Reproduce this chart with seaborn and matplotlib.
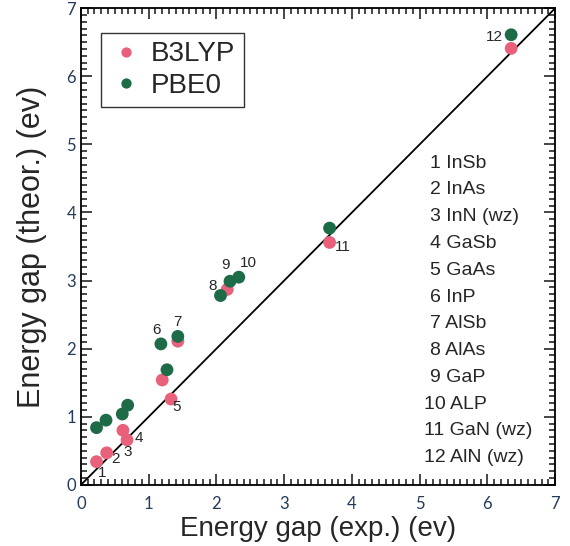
import numpy as np
import pandas as pd
import matplotlib
matplotlib.use("Agg")
import matplotlib.pyplot as plt
import seaborn as sns
from matplotlib.ticker import MultipleLocator

# -------------------------------
# Data
# -------------------------------
b3lyp_exp = [0.23, 0.38, 0.68, 0.62, 1.33, 1.20, 1.43, 2.16, 3.67, 6.35]
b3lyp_theo = [0.34, 0.47, 0.66, 0.80, 1.26, 1.54, 2.11, 2.87, 3.56, 6.41]

pbe0_exp = [0.23, 0.37, 0.61, 0.69, 1.27, 1.18, 1.43, 2.06, 2.20, 2.33, 3.67, 6.35]
pbe0_theo = [0.84, 0.95, 1.04, 1.17, 1.69, 2.07, 2.18, 2.78, 2.99, 3.05, 3.77, 6.61]

compounds = ["InSb", "InAs", "InN (wz)", "GaSb", "GaAs", "InP", "AlSb",
             "AlAs", "GaP", "ALP", "GaN (wz)", "AlN (wz)"]

# which point each number label sits next to: (series, index, dx px, dy px)
label_anchor = [
    ("B3LYP", 0, 6, -11), ("B3LYP", 1, 9, -6), ("B3LYP", 2, 1, -12),
    ("B3LYP", 3, 16, -8), ("B3LYP", 4, 6, -8), ("PBE0", 5, -4, 14),
    ("PBE0", 6, 0, 14), ("PBE0", 7, -8, 10), ("PBE0", 8, -4, 16),
    ("PBE0", 9, 10, 14), ("B3LYP", 8, 13, -5), ("PBE0", 11, -17, -2),
]

df = pd.concat([
    pd.DataFrame({"exp": b3lyp_exp, "theo": b3lyp_theo, "method": "B3LYP"}),
    pd.DataFrame({"exp": pbe0_exp, "theo": pbe0_theo, "method": "PBE0"}),
], ignore_index=True)

# -------------------------------
# Plot
# -------------------------------
sns.set_style("white")
plt.rcParams["font.family"] = ["Liberation Sans", "DejaVu Sans"]

fig = plt.figure(figsize=(5.7, 5.46), dpi=100)
ax = fig.add_axes([0.142, 0.112, 0.832, 0.873])

ax.plot([0, 7], [0, 7], color="black", lw=1.3, zorder=1)

sns.scatterplot(data=df, x="exp", y="theo", hue="method",
                palette={"B3LYP": "#E8607A", "PBE0": "#1E6B47"},
                s=85, edgecolor="none", ax=ax, zorder=3)

series = {"B3LYP": (b3lyp_exp, b3lyp_theo), "PBE0": (pbe0_exp, pbe0_theo)}
for i, (name, idx, dx, dy) in enumerate(label_anchor):
    xs, ys = series[name]
    ax.annotate(str(i + 1), (xs[idx], ys[idx]), xytext=(dx, dy),
                textcoords="offset pixels", ha="center", va="center",
                fontsize=11)

for i, c in enumerate(compounds):
    x0 = 0.724 if i >= 9 else 0.735
    ax.text(x0, 0.675 - i * 0.0562, f"{i + 1} {c}", transform=ax.transAxes,
            fontsize=14, va="center", ha="left")

ax.set_xlim(0, 7)
ax.set_ylim(0, 7)
ax.xaxis.set_major_locator(MultipleLocator(1))
ax.yaxis.set_major_locator(MultipleLocator(1))
ax.xaxis.set_minor_locator(MultipleLocator(0.1))
ax.yaxis.set_minor_locator(MultipleLocator(0.1))
ax.tick_params(which="both", direction="in", top=True, right=True,
               bottom=True, left=True, width=1.2)
ax.tick_params(which="major", length=8, labelsize=12, labelcolor="#243B5A")
ax.tick_params(which="minor", length=4)
ax.tick_params(axis="x", which="major", pad=8)
for lab in ax.get_xticklabels() + ax.get_yticklabels():
    lab.set_family(["Lato", "DejaVu Sans"])
for sp in ax.spines.values():
    sp.set_linewidth(1.3)
    sp.set_color("black")

ax.set_xlabel("Energy gap (exp.) (ev)", fontsize=20, labelpad=3)
ax.set_ylabel("Energy gap (theor.) (ev)", fontsize=22, labelpad=14)

leg = ax.legend(loc="upper left", bbox_to_anchor=(0.042, 0.948), fontsize=20,
                frameon=True, fancybox=False, edgecolor="black",
                markerscale=0.8, handletextpad=0.3, borderpad=0.3,
                borderaxespad=0, labelspacing=0.2, handlelength=1.2)
leg.get_frame().set_linewidth(1.0)

plt.savefig("out.png", dpi=100)
